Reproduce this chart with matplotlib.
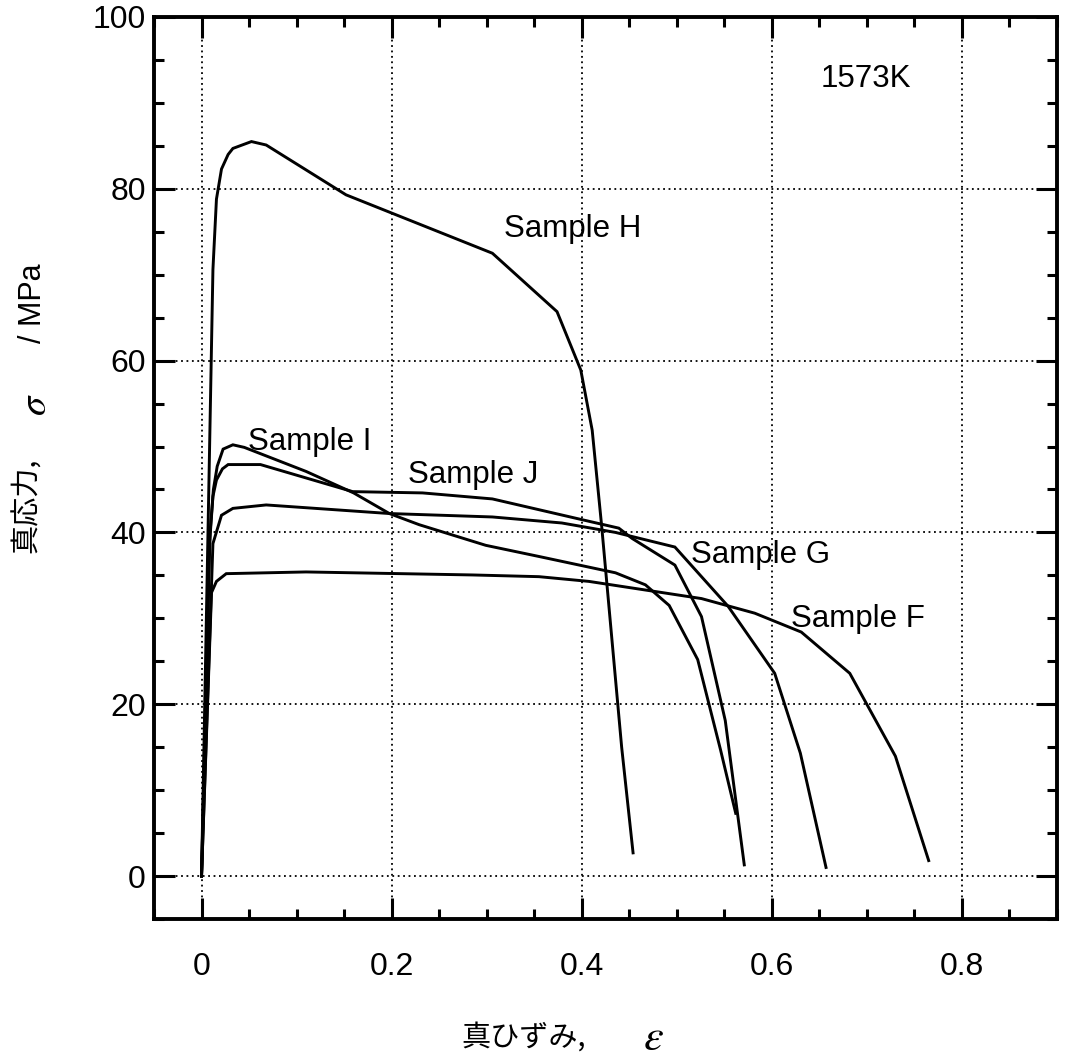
import matplotlib
matplotlib.use("Agg")
import matplotlib.pyplot as plt
from matplotlib.ticker import MultipleLocator

plt.rcParams['font.family'] = ['Liberation Sans', 'Noto Sans CJK JP']
plt.rcParams['mathtext.fontset'] = 'stix'

# true strain / true stress curves at 1573K
strain_F = [0, 0.0105, 0.0157, 0.026, 0.11, 0.285, 0.355, 0.4075, 0.526, 0.582, 0.631, 0.682, 0.730, 0.765]
stress_F = [0, 33.0, 34.3, 35.2, 35.4, 35.05, 34.85, 34.3, 32.3, 30.6, 28.4, 23.6, 13.95, 1.8]

strain_G = [0, 0.012, 0.021, 0.033, 0.068, 0.1976, 0.306, 0.379, 0.4355, 0.498, 0.554, 0.603, 0.63, 0.657]
stress_G = [0, 38.7, 42.0, 42.8, 43.2, 42.2, 41.8, 41.1, 40.0, 38.3, 31.4, 23.6, 14.3, 1.0]

strain_H = [0, 0.012, 0.0157, 0.021, 0.028, 0.033, 0.0525, 0.068, 0.152, 0.306, 0.374, 0.399, 0.411, 0.421, 0.442, 0.454]
stress_H = [0, 70.6, 78.8, 82.3, 84.0, 84.7, 85.5, 85.1, 79.3, 72.5, 65.7, 58.9, 51.9, 40.7, 15.0, 2.7]

strain_I = [0, 0.009, 0.0125, 0.0165, 0.0227, 0.033, 0.045, 0.11, 0.16, 0.1976, 0.229, 0.299, 0.355, 0.4355, 0.467, 0.492, 0.522, 0.546, 0.562]
stress_I = [0, 40.0, 45.0, 47.7, 49.7, 50.2, 49.9, 47.1, 44.6, 42.2, 40.9, 38.5, 37.2, 35.3, 33.9, 31.5, 25.2, 14.7, 7.3]

strain_J = [0, 0.008, 0.012, 0.0157, 0.022, 0.028, 0.062, 0.159, 0.2325, 0.306, 0.4075, 0.439, 0.453, 0.498, 0.526, 0.551, 0.571]
stress_J = [0, 38.0, 44.2, 46.1, 47.4, 47.9, 47.9, 44.75, 44.6, 43.9, 41.3, 40.5, 39.3, 36.2, 30.2, 18.1, 1.3]

# label text and where its left/baseline sits (strain, stress)
sample_labels = ['Sample H', 'Sample I', 'Sample J', 'Sample G', 'Sample F']
label_x = [0.318, 0.0486, 0.2168, 0.515, 0.620]
label_y = [74.4, 49.6, 45.7, 36.4, 29.0]

x_ticks = [0, 0.2, 0.4, 0.6, 0.8]
x_ticklabels = ['0', '0.2', '0.4', '0.6', '0.8']
y_ticks = [0, 20, 40, 60, 80, 100]

W, H = 1066, 1062
fig = plt.figure(figsize=(W / 100, H / 100), dpi=100)
ax = fig.add_axes([154 / W, 1 - 919 / H, (1057 - 154) / W, (919 - 17) / H])

for xs, ys in [(strain_F, stress_F), (strain_G, stress_G), (strain_H, stress_H),
               (strain_I, stress_I), (strain_J, stress_J)]:
    ax.plot(xs, ys, color='black', lw=2.1, solid_joinstyle='miter', zorder=3)

for txt, lx, ly in zip(sample_labels, label_x, label_y):
    ax.text(lx, ly, txt, fontsize=22.5, ha='left', va='baseline', zorder=4)
ax.text(0.6516, 91.8, '1573K', fontsize=22.5, ha='left', va='baseline')

ax.set_xlim(-0.05, 0.9)
ax.set_ylim(-5, 100)
ax.set_xticks(x_ticks)
ax.set_xticklabels(x_ticklabels)
ax.set_yticks(y_ticks)
ax.xaxis.set_minor_locator(MultipleLocator(0.05))
ax.yaxis.set_minor_locator(MultipleLocator(5))

ax.grid(True, which='major', color='black', linestyle=(0, (1, 2)), lw=1.3)
ax.tick_params(which='both', direction='in', top=True, right=True, width=2.2, color='black')
ax.tick_params(which='major', length=15, labelsize=23)
ax.tick_params(which='minor', length=7)
ax.tick_params(axis='x', which='major', pad=24)
ax.tick_params(axis='y', which='major', pad=6)
for sp in ax.spines.values():
    sp.set_linewidth(2.8)

# axis titles, pieced together so the wide gaps between parts stay put
fig.text(27 / W, 1 - 553 / H, '真応力,', rotation=90, fontsize=21,
         family='Noto Sans CJK JP', ha='center', va='bottom')
fig.text(36 / W, 1 - 405 / H, r'$\sigma$', rotation=90, fontsize=28,
         ha='center', va='center')
fig.text(33 / W, 1 - 263 / H, '/ MPa', rotation=90, fontsize=22,
         ha='center', va='top')

fig.text(461 / W, 1 - 1038 / H, '真ひずみ,', fontsize=21,
         family='Noto Sans CJK JP', ha='left', va='center')
fig.text(653 / W, 1 - 1039 / H, r'$\varepsilon$', fontsize=32,
         ha='center', va='center')

fig.savefig('out.png', dpi=100)
